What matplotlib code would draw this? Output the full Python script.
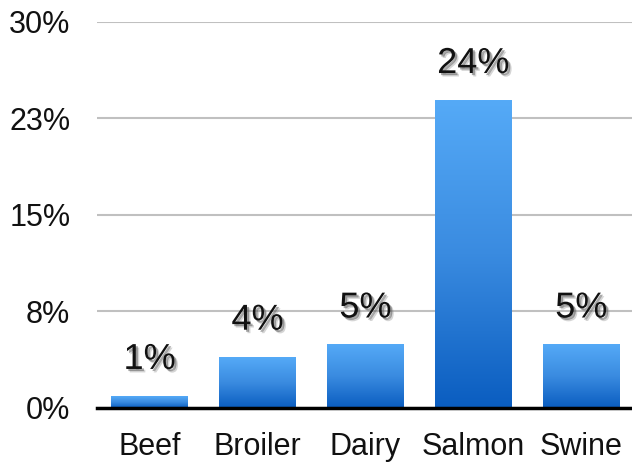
import numpy as np
import matplotlib
matplotlib.use("Agg")
import matplotlib.pyplot as plt
import matplotlib.patheffects as pe
from matplotlib.colors import LinearSegmentedColormap

categories = ["Beef", "Broiler", "Dairy", "Salmon", "Swine"]
values = [0.9, 3.95, 4.9, 23.9, 4.9]
bar_labels = ["1%", "4%", "5%", "24%", "5%"]
yticks = [0, 7.5, 15, 22.5, 30]
ytick_labels = ["0%", "8%", "15%", "23%", "30%"]

plt.rcParams["font.family"] = ["Liberation Sans", "DejaVu Sans"]

fig = plt.figure(figsize=(6.32, 4.65), dpi=100)
ax = fig.add_axes([0.153, 0.1226, 0.847, 0.8301])

grad = LinearSegmentedColormap.from_list("blu", ["#0A5DC0", "#3A8BE0", "#55AAF7"])
x = np.arange(len(categories))
bars = ax.bar(x, values, width=0.71, color="none", zorder=3)
g = np.linspace(0, 1, 256).reshape(-1, 1)
for b in bars:
    x0, y0 = b.get_x(), b.get_y()
    ax.imshow(g, cmap=grad, origin="lower", aspect="auto", zorder=3,
              extent=(x0, x0 + b.get_width(), y0, y0 + b.get_height()))

shadow = [pe.SimplePatchShadow(offset=(2.5, -2.5), shadow_rgbFace="#888888", alpha=0.35),
          pe.SimplePatchShadow(offset=(1.5, -1.5), shadow_rgbFace="#555555", alpha=0.5),
          pe.Normal()]
for xi, v, lab in zip(x, values, bar_labels):
    t = ax.annotate(lab, (xi, v), xytext=(0, 14), textcoords="offset points",
                    ha="center", va="bottom", fontsize=26, color="#111111", zorder=5)
    t.set_path_effects(shadow)

ax.set_xlim(-0.49, 4.47)
ax.set_ylim(0, 30)
ax.set_yticks(yticks)
ax.set_yticklabels(ytick_labels)
ax.set_xticks(x)
ax.set_xticklabels(categories)
ax.tick_params(axis="y", length=0, pad=19, labelsize=22, labelcolor="#111111")
ax.tick_params(axis="x", length=0, pad=17, labelsize=22, labelcolor="#111111")
ax.yaxis.grid(True, color="#C0C0C0", linewidth=1.5, zorder=0)
ax.set_axisbelow(True)
for s in ["top", "right", "left"]:
    ax.spines[s].set_visible(False)
ax.spines["bottom"].set_linewidth(2.5)
ax.spines["bottom"].set_color("black")
ax.spines["bottom"].set_zorder(4)

fig.savefig("out.png", dpi=100)
